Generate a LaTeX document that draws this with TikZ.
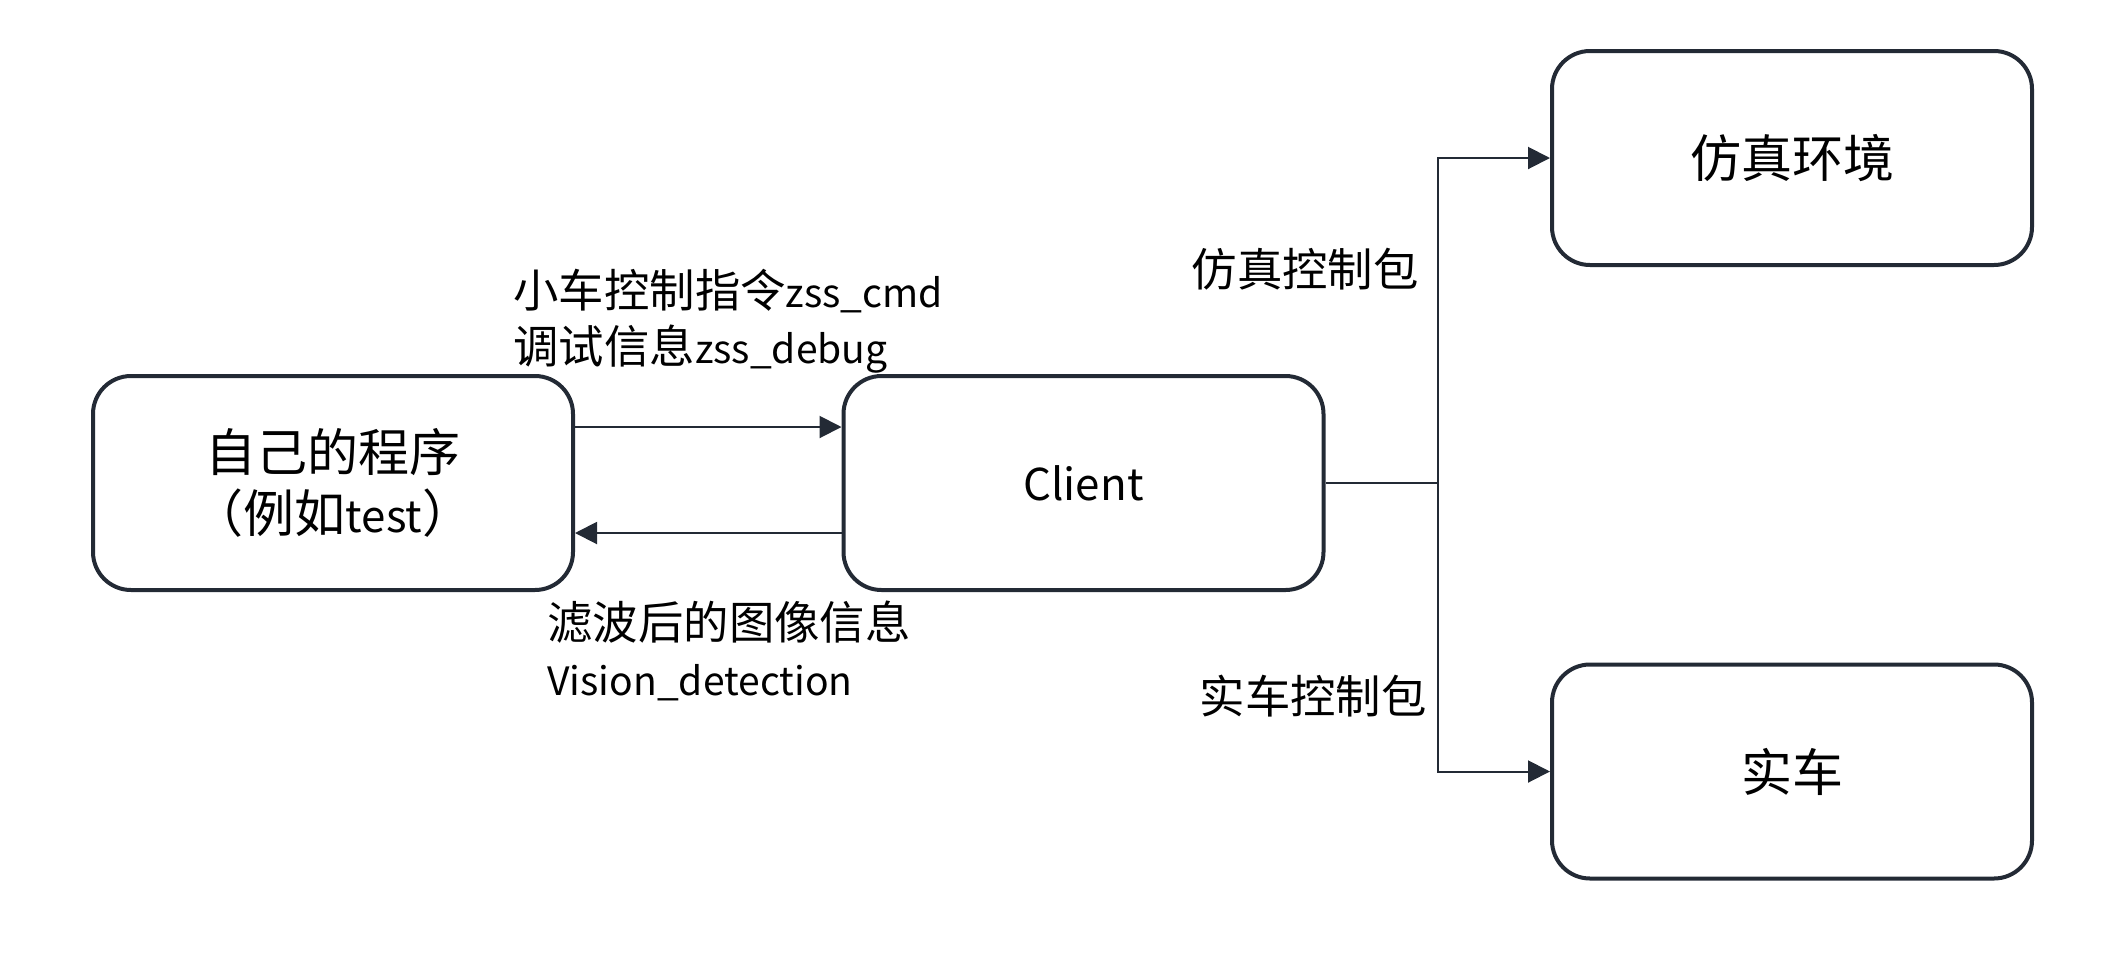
\documentclass[tikz,border=0pt]{standalone}
\usepackage{fontspec}
\setmainfont{Noto Sans CJK SC}
\newfontfamily\lat[Scale=0.86]{Noto Sans CJK SC}
\usetikzlibrary{arrows.meta}
\definecolor{ink}{HTML}{232A35}
\begin{document}
\begin{tikzpicture}[x=0.5pt,y=-0.5pt,
  box/.style={draw=ink,line width=2pt,rounded corners=19pt,minimum width=240pt,minimum height=107pt,align=center,inner sep=0pt,font=\fontsize{25.5pt}{30.5pt}\selectfont},
  lbl/.style={align=left,inner sep=0pt,font=\fontsize{22.7pt}{28pt}\selectfont},
  arr/.style={draw=ink,line width=1pt,-{Triangle[length=11pt,width=11pt]}},
  ln/.style={draw=ink,line width=1pt}]
\useasboundingbox (0,0) rectangle (2111,954);
\node[box] (prog) at (333,483) {自己的程序\\（例如{\lat test}）};
\node[box] (client) at (1083.5,483) {{\lat Client}};
\node[box] (sim) at (1792,158) {仿真环境};
\node[box] (car) at (1792,771.5) {实车};
\draw[arr] (prog.east |- 0,427) -- (client.west |- 0,427);
\draw[arr] (client.west |- 0,533) -- (prog.east |- 0,533);
\coordinate (j) at (1438,483);
\draw[ln] (client.east) -- (j);
\draw[arr] (j) |- (sim.west);
\draw[arr] (j) |- (car.west);
\node[lbl,anchor=west] (l1) at (513,321) {小车控制指令{\lat zss\_cmd}\\调试信息{\lat zss\_debug}};
\node[lbl,anchor=west] (l2) at (547,651) {滤波后的图像信息\\{\lat Vision\_detection}};
\node[lbl,anchor=east] (l3) at (1419,269) {仿真控制包};
\node[lbl,anchor=east] (l4) at (1427,696) {实车控制包};
\end{tikzpicture}
\end{document}
